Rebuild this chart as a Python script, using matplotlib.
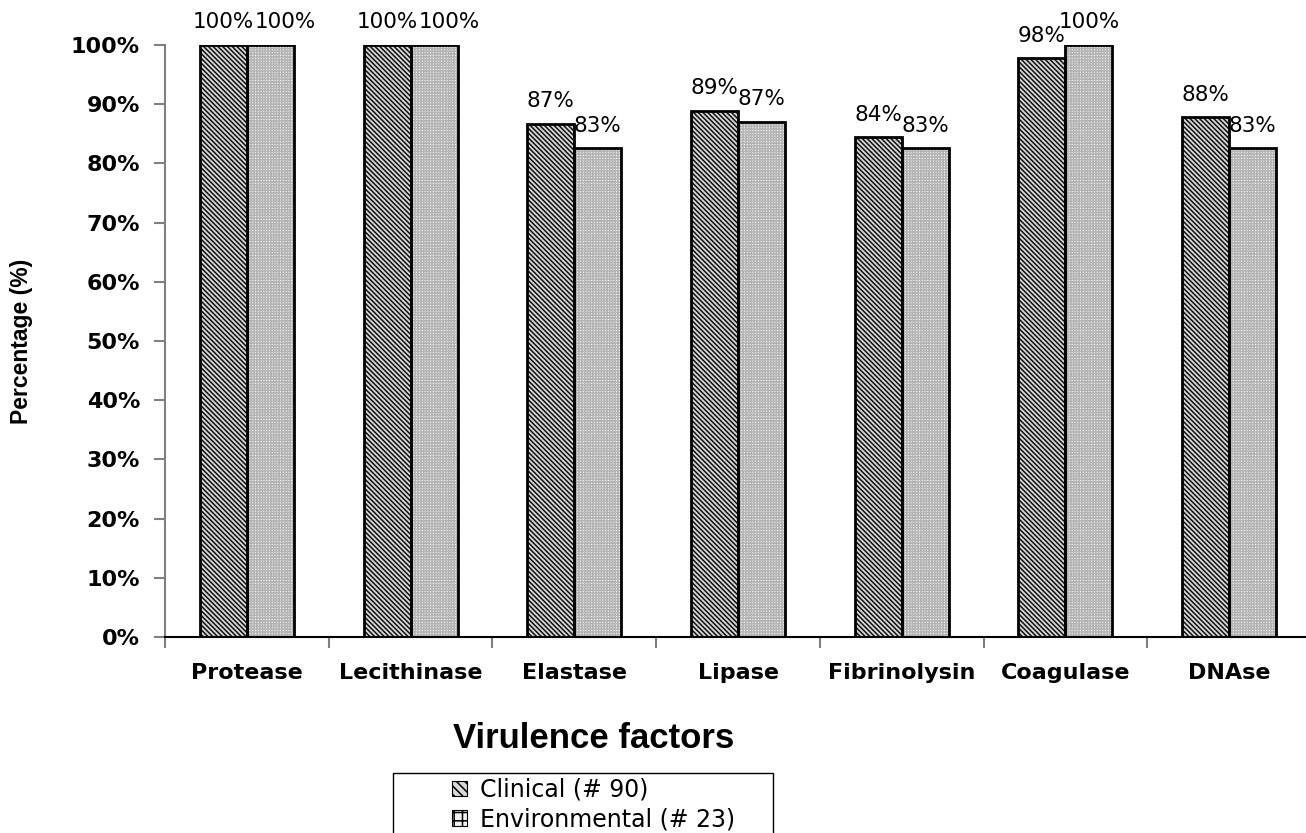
import matplotlib
matplotlib.use("Agg")
import matplotlib.pyplot as plt
from matplotlib.patches import Rectangle, Patch
import numpy as np

factors = ["Protease", "Lecithinase", "Elastase", "Lipase",
           "Fibrinolysin", "Coagulase", "DNAse"]
clinical = [100, 100, 86.7, 88.9, 84.4, 97.8, 87.8]
environmental = [100, 100, 82.6, 87.0, 82.6, 100, 82.6]
series_names = ["Clinical (# 90)", "Environmental (# 23)"]
yticks = [0, 10, 20, 30, 40, 50, 60, 70, 80, 90, 100]

W, H = 1306, 833
fig = plt.figure(figsize=(W / 100, H / 100), dpi=100)
ax = fig.add_axes([165 / W, 1 - 637 / H, 1146 / W, (637 - 45) / H])

plt.rcParams["hatch.linewidth"] = 1.1
x = np.arange(len(factors))
bw = 0.287

styles = [
    dict(face="#d8d8d8", hatch="\\\\\\\\\\\\\\", hcol="#101010", leg_hatch="\\\\\\\\"),
    dict(face="#f2f2f2", hatch="++++++", hcol="#b4b4b4", leg_hatch="++"),
]
bars_all = []
for k, (vals, st) in enumerate(zip([clinical, environmental], styles)):
    pos = x + (k - 0.5) * bw
    ax.bar(pos, vals, bw, color=st["face"], hatch=st["hatch"],
           edgecolor=st["hcol"], linewidth=0, zorder=2)
    b = ax.bar(pos, vals, bw, fill=False, edgecolor="black",
               linewidth=2.0, zorder=3)
    bars_all.append(b)

# value labels above each bar; push the second label right when both are equal
lab_font = dict(family="DejaVu Sans", fontsize=15.5)
for k, b in enumerate(bars_all):
    for i, rect in enumerate(b):
        v = rect.get_height()
        dx = 0
        if k == 1 and round(clinical[i]) == round(environmental[i]) and round(v) == 100 and i < 2:
            dx = 11
        ax.annotate(f"{round(v):.0f}%", (rect.get_x() + rect.get_width() / 2, v),
                    xytext=(dx, 9), textcoords="offset points",
                    ha="center", va="bottom", annotation_clip=False, **lab_font)

ax.set_xlim(-0.5, len(factors) - 0.5)
ax.set_ylim(0, 100)
ax.set_yticks(yticks)
ax.set_yticklabels([f"{t}%" for t in yticks], family="DejaVu Sans",
                   fontweight="bold", fontsize=16)
ax.set_xticks(x)
ax.set_xticklabels(factors, family="DejaVu Sans", fontweight="bold", fontsize=16)
ax.set_xticks(np.arange(len(factors) + 1) - 0.5, minor=True)
ax.tick_params(axis="x", which="major", length=0, pad=19)
ax.tick_params(axis="x", which="minor", length=8, width=1.5, color="#808080",
               direction="out")
ax.tick_params(axis="y", length=8, width=1.5, color="#808080", pad=10)

for s in ["top", "right"]:
    ax.spines[s].set_visible(False)
ax.spines["left"].set_color("#808080")
ax.spines["left"].set_linewidth(1.5)
ax.spines["bottom"].set_color("black")
ax.spines["bottom"].set_linewidth(1.5)

ax.set_ylabel("Percentage (%)", family="Liberation Sans", fontweight="bold",
              fontsize=16.5, labelpad=27)
fig.text(594 / W, 1 - 738 / H, "Virulence factors", family="Liberation Sans",
         fontweight="bold", fontsize=25, ha="center", va="center")

# legend frame and entries
fig.patches.append(Rectangle((393 / W, -0.05), (773 - 393) / W, 0.05 + (833 - 773) / H,
                             transform=fig.transFigure, fill=False,
                             edgecolor="black", linewidth=1.0))
handles = [Patch(facecolor=st["face"], hatch=st["leg_hatch"], edgecolor="black",
                 linewidth=0.8) for st in styles]
leg = fig.legend(handles, series_names, loc="upper left",
                 bbox_to_anchor=(452 / W, 1 - 778 / H), frameon=False,
                 prop=dict(family="DejaVu Sans", size=17),
                 handlelength=0.62, handleheight=0.62, handletextpad=0.55,
                 labelspacing=0.22, borderpad=0, borderaxespad=0)

fig.savefig("out.png", dpi=100)
